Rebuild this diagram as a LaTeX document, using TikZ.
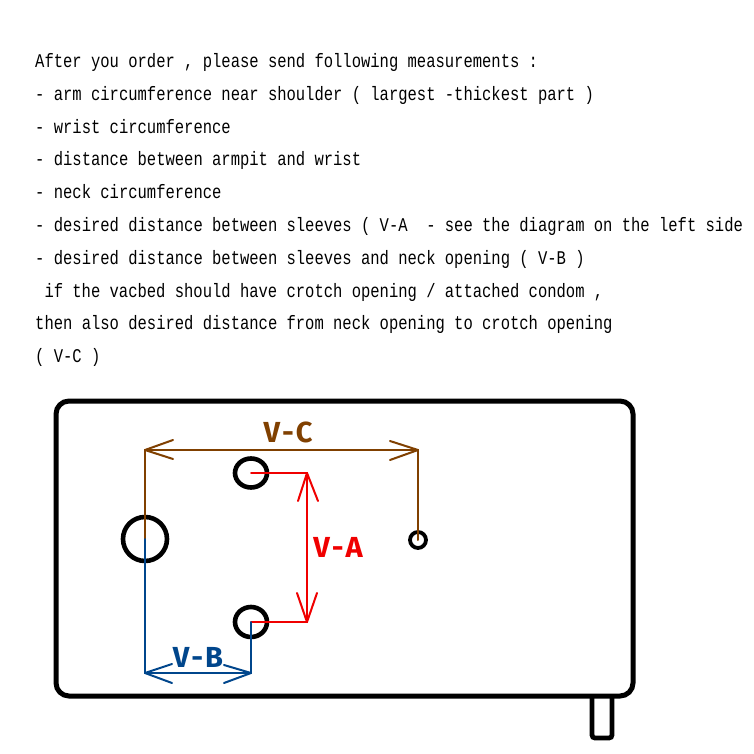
\documentclass[tikz,border=0pt]{standalone}
\usepackage{fontspec}
\usetikzlibrary{shapes.geometric}
\newfontfamily\monof[FakeStretch=0.8]{Liberation Mono}
\newfontfamily\labf{Fira Sans}
\definecolor{vcbrown}{RGB}{128,64,0}
\definecolor{vared}{RGB}{240,0,0}
\definecolor{vbblue}{RGB}{0,70,140}
\begin{document}
\begin{tikzpicture}[x=1pt,y=-1pt,
  txt/.style={anchor=base west, inner sep=0, font=\monof\fontsize{19.4}{20}\selectfont},
  hole/.style={draw=black, line width=4.6pt, inner sep=0, outer sep=0},
  conn/.style={line width=2pt, line cap=round, line join=miter},
  lab/.style={inner sep=0, font=\labf\bfseries\fontsize{29}{30}\selectfont}]
\useasboundingbox (0,0) rectangle (754,754);
\fill[white] (0,0) rectangle (754,754);
% text
\node[txt] (t1) at (35,68) {After you order , please send following measurements :};
\node[txt] (t2) at (35,100.7) {- arm circumference near shoulder ( largest -thickest part )};
\node[txt] (t3) at (35,133.4) {- wrist circumference};
\node[txt] (t4) at (35,166) {- distance between armpit and wrist};
\node[txt] (t5) at (35,198.8) {- neck circumference};
\node[txt] (t6) at (35,231.5) {- desired distance between sleeves ( V-A~~- see the diagram on the left side};
\node[txt] (t7) at (35,264) {- desired distance between sleeves and neck opening ( V-B )};
\node[txt] (t8) at (44.3,297) {if the vacbed should have crotch opening / attached condom ,};
\node[txt] (t9) at (35,329.6) {then also desired distance from neck opening to crotch opening};
\node[txt] (t10) at (35,362) {( V-C )};
% frame and tab
\draw[line width=4.8pt, rounded corners=3pt] (592,696) -- (592,738) -- (612,738) -- (612,696);
\draw[line width=5pt, rounded corners=13pt] (56,401) rectangle (633,696);
% holes
\node[hole, circle, minimum size=44pt] (neck) at (145,539) {};
\node[hole, ellipse, minimum width=32pt, minimum height=29pt] (slt) at (251,473) {};
\node[hole, ellipse, minimum width=32pt, minimum height=30pt] (slb) at (251,622) {};
\node[hole, circle, line width=3.8pt, minimum size=16pt] (crotch) at (418,540) {};
% V-C
\coordinate (c1) at (145,450);
\coordinate (c2) at (418,450);
\draw[conn, vcbrown] (neck.center) -- (c1) -- (c2) -- (crotch.center);
\draw[conn, vcbrown] (c1) -- ++(28,-10) (c1) -- ++(28,9);
\draw[conn, vcbrown] (c2) -- ++(-28,-9) (c2) -- ++(-28,10);
\node[lab, text=vcbrown] (lc) at (288,432) {V\hspace{2pt}-\hspace{2pt}C};
% V-A
\coordinate (a1) at (307,473);
\coordinate (a2) at (307,622);
\draw[conn, vared] (slt.center) -- (a1) -- (a2) -- (slb.center);
\draw[conn, vared] (a1) -- ++(-9,28) (a1) -- ++(11,28);
\draw[conn, vared] (a2) -- ++(-10,-29) (a2) -- ++(10,-29);
\node[lab, text=vared] (la) at (338,547) {V\hspace{2pt}-\hspace{2pt}A};
% V-B
\coordinate (b1) at (145,673);
\coordinate (b2) at (251,673);
\draw[conn, vbblue] (neck.center) -- (b1) -- (b2) -- (slb.center);
\draw[conn, vbblue] (b1) -- ++(27,-9) (b1) -- ++(27,10);
\draw[conn, vbblue] (b2) -- ++(-27,-8) (b2) -- ++(-27,10);
\node[lab, text=vbblue] (lb) at (198,657) {V\hspace{2pt}-\hspace{2pt}B};
\end{tikzpicture}
\end{document}
